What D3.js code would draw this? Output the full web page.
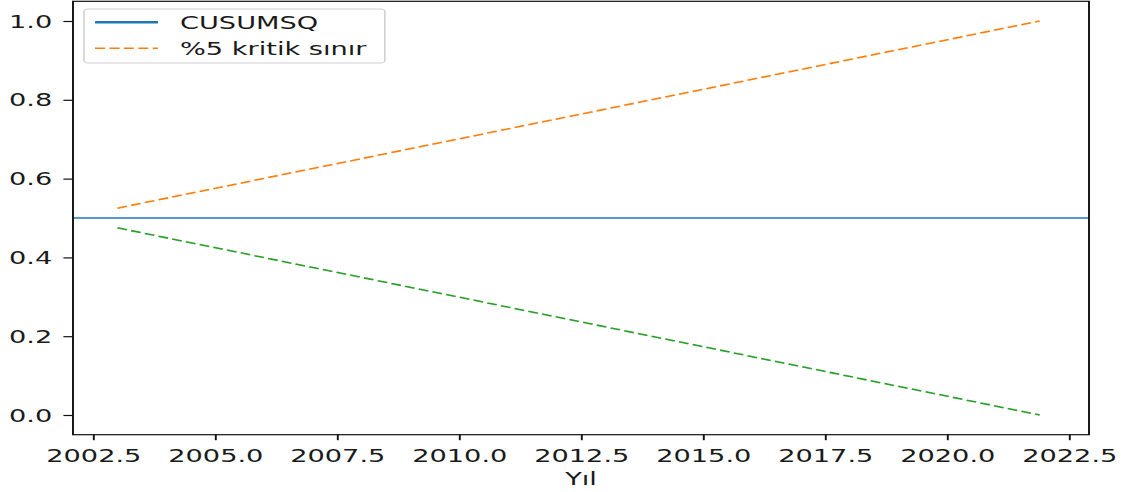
<!DOCTYPE html>
<html>
<head>
<meta charset="utf-8">
<script src="https://cdn.jsdelivr.net/npm/d3@7"></script>
<style>
  html, body { margin: 0; padding: 0; background: #fff; }
  svg { display: block; }
  text { font-family: "DejaVu Sans", sans-serif; fill: #1a1a1a; }
</style>
</head>
<body>
<script>
// ---- data (the bounds are straight lines) ----
const boundYears = [2003.0, 2021.9];
const upperBound = [0.525, 1.0];
const lowerBound = [0.475, 0.0];
const cusumsqLevel = 0.5;
const xTicks = [2002.5, 2005.0, 2007.5, 2010.0, 2012.5, 2015.0, 2017.5, 2020.0, 2022.5];
const yTicks = [0.0, 0.2, 0.4, 0.6, 0.8, 1.0];
const legendLabels = ["CUSUMSQ", "%5 kritik sınır"];
const xLabel = "Yıl";

(function () {
// ---- layout (internal coords, stretched horizontally like the reference) ----
const W = 1121, H = 492, SX = 1.6;
const IW = W / SX;
const pLeft = 45.625, pRight = 680.625, pTop = 1.3, pBottom = 434.7;
const FS = 17;

const svg = d3.select("body").append("svg")
  .attr("width", W).attr("height", H)
  .attr("viewBox", `0 0 ${IW} ${H}`)
  .attr("preserveAspectRatio", "none");

const x = d3.scaleLinear().domain([2002.09, 2022.91]).range([pLeft, pRight]);
const y = d3.scaleLinear().domain([-0.05, 1.05]).range([pBottom, pTop]);

const line = d3.line().x((d, i) => x(boundYears[i])).y(d => y(d));

svg.append("line")
  .attr("x1", pLeft).attr("x2", pRight)
  .attr("y1", y(cusumsqLevel)).attr("y2", y(cusumsqLevel))
  .attr("stroke", "#1f77b4").attr("stroke-width", 1.4);

svg.append("path").datum(upperBound)
  .attr("d", line).attr("fill", "none")
  .attr("stroke", "#ff7f0e").attr("stroke-width", 1.6)
  .attr("stroke-dasharray", "6.3,2.7");

svg.append("path").datum(lowerBound)
  .attr("d", line).attr("fill", "none")
  .attr("stroke", "#2ca02c").attr("stroke-width", 1.6)
  .attr("stroke-dasharray", "6.3,2.7");

// axes frame
svg.append("rect")
  .attr("x", pLeft).attr("y", pTop)
  .attr("width", pRight - pLeft).attr("height", pBottom - pTop)
  .attr("fill", "none").attr("stroke", "#111").attr("stroke-width", 1.2);

// x axis
const xAxis = svg.append("g").attr("transform", `translate(0,${pBottom})`)
  .call(d3.axisBottom(x).tickValues(xTicks).tickFormat(d3.format(".1f"))
        .tickSize(5.5).tickPadding(0));
xAxis.select(".domain").remove();
xAxis.selectAll(".tick line").attr("stroke", "#111").attr("stroke-width", 1.2);
xAxis.selectAll(".tick text")
  .attr("font-size", FS).attr("font-family", "DejaVu Sans")
  .attr("dy", null).attr("y", 27.3).style("fill", "#1a1a1a");

// y axis
const yAxis = svg.append("g").attr("transform", `translate(${pLeft},0)`)
  .call(d3.axisLeft(y).tickValues(yTicks).tickFormat(d3.format(".1f"))
        .tickSize(6).tickPadding(0));
yAxis.select(".domain").remove();
yAxis.selectAll(".tick line").attr("stroke", "#111").attr("stroke-width", 1.2);
yAxis.selectAll(".tick text")
  .attr("font-size", FS).attr("font-family", "DejaVu Sans")
  .attr("x", -13).attr("dy", "0.36em").style("fill", "#1a1a1a");

// x label
svg.append("text")
  .attr("x", (pLeft + pRight) / 2).attr("y", 485)
  .attr("text-anchor", "middle").attr("font-size", FS)
  .text(xLabel);

// legend
const lg = svg.append("g");
lg.append("rect")
  .attr("x", 52.5).attr("y", 9).attr("width", 188).attr("height", 54)
  .attr("rx", 2.5).attr("ry", 2.5)
  .attr("fill", "#fff").attr("fill-opacity", 0.8)
  .attr("stroke", "#d0d0d0").attr("stroke-width", 1);
lg.append("line")
  .attr("x1", 59.4).attr("x2", 98.75).attr("y1", 22.3).attr("y2", 22.3)
  .attr("stroke", "#1f77b4").attr("stroke-width", 2.4);
lg.append("line")
  .attr("x1", 59.4).attr("x2", 98.75).attr("y1", 48.3).attr("y2", 48.3)
  .attr("stroke", "#ff7f0e").attr("stroke-width", 1.6)
  .attr("stroke-dasharray", "6.3,2.7");
lg.append("text").attr("x", 112.5).attr("y", 28.8).attr("font-size", FS).text(legendLabels[0]);
lg.append("text").attr("x", 112.5).attr("y", 54.8).attr("font-size", FS).text(legendLabels[1]);
})();
</script>
</body>
</html>
